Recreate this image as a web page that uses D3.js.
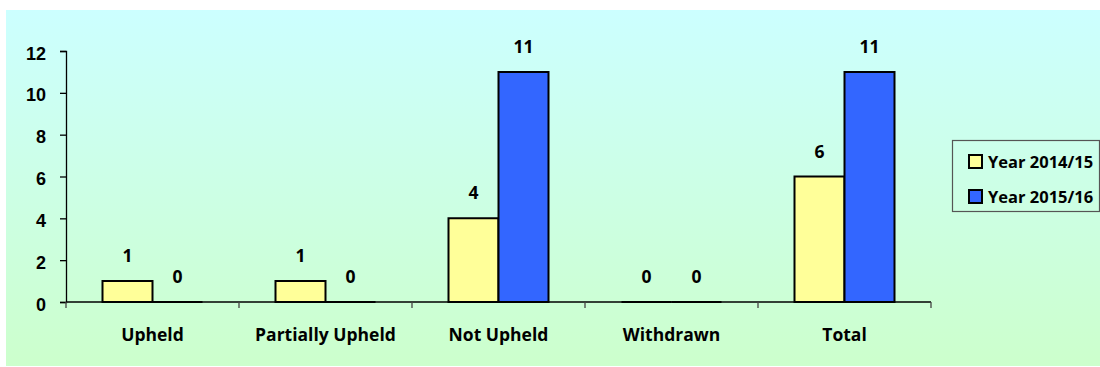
<!DOCTYPE html>
<html>
<head>
<meta charset="utf-8">
<script src="https://cdn.jsdelivr.net/npm/d3@7"></script>
<style>
  html, body { margin: 0; padding: 0; background: #fff; }
  svg { display: block; font-family: "Open Sans", "Noto Sans", sans-serif; font-weight: 700; }
</style>
</head>
<body>
<svg id="chart" width="1100" height="367"></svg>
<script>
const categories = ["Upheld", "Partially Upheld", "Not Upheld", "Withdrawn", "Total"];
const seriesNames = ["Year 2014/15", "Year 2015/16"];
const year2014 = [1, 1, 4, 0, 6];
const year2015 = [0, 0, 11, 0, 11];
const yTicks = [0, 2, 4, 6, 8, 10, 12];
const seriesColors = ["#FFFF99", "#3366FF"];

const svg = d3.select("#chart");

// background
const defs = svg.append("defs");
const grad = defs.append("linearGradient")
  .attr("id", "bg")
  .attr("x1", 0).attr("y1", 0)
  .attr("x2", 0).attr("y2", 1);
grad.append("stop").attr("offset", "0%").attr("stop-color", "#CCFFFF");
grad.append("stop").attr("offset", "100%").attr("stop-color", "#CCFFCC");

svg.append("rect")
  .attr("x", 6).attr("y", 10)
  .attr("width", 1094).attr("height", 356)
  .attr("fill", "url(#bg)");

// scales
const x0 = d3.scaleBand()
  .domain(categories)
  .range([66, 931])
  .paddingInner(0)
  .paddingOuter(0);

const x1 = d3.scaleBand()
  .domain(seriesNames)
  .range([0, x0.bandwidth()])
  .paddingInner(0)
  .paddingOuter(0.73);

const y = d3.scaleLinear()
  .domain([0, 12])
  .range([302, 51]);

const data = categories.map((c, i) => ({
  cat: c,
  values: [
    { name: seriesNames[0], value: year2014[i], color: seriesColors[0] },
    { name: seriesNames[1], value: year2015[i], color: seriesColors[1] }
  ]
}));

// bars (paths so zero values still show as a line)
const group = svg.selectAll("g.cat")
  .data(data)
  .enter().append("g")
  .attr("class", "cat")
  .attr("transform", (d) => `translate(${x0(d.cat)},0)`);

group.selectAll("path.bar")
  .data((d) => d.values)
  .enter().append("path")
  .attr("class", "bar")
  .attr("d", (d) => {
    const bx = x1(d.name), bw = x1.bandwidth();
    const top = y(d.value), h = y(0) - y(d.value);
    return `M${bx},${y(0)}V${top}H${bx + bw}V${top + h}Z`;
  })
  .attr("fill", (d) => d.color)
  .attr("stroke", "#000")
  .attr("stroke-width", 2);

group.selectAll("text.value")
  .data((d) => d.values)
  .enter().append("text")
  .attr("class", "value")
  .attr("x", (d) => x1(d.name) + x1.bandwidth() / 2)
  .attr("y", (d) => y(d.value) - 19)
  .attr("text-anchor", "middle")
  .attr("font-size", 17.5)
  .attr("fill", "#000")
  .text((d) => d.value);

// y axis
const yAxis = d3.axisLeft(y)
  .tickValues(yTicks)
  .tickSize(6)
  .tickPadding(14)
  .tickFormat(d3.format("d"));

const gy = svg.append("g")
  .attr("transform", "translate(66,0)")
  .call(yAxis);
gy.select(".domain").attr("stroke", "#000").attr("stroke-width", 1.3);
gy.selectAll(".tick line").attr("stroke", "#000").attr("stroke-width", 1.3);
gy.selectAll(".tick text")
  .attr("font-size", 18)
  .attr("font-family", null)
  .attr("fill", "#000")
  .attr("dy", "0.45em");

// x axis
const boundaries = categories.map((c) => x0(c)).concat([x0.range()[1]]);
const gx = svg.append("g");
gx.append("line")
  .attr("x1", x0.range()[0]).attr("x2", x0.range()[1])
  .attr("y1", y(0)).attr("y2", y(0))
  .attr("stroke", "#000").attr("stroke-width", 1.3);
gx.selectAll("line.tick")
  .data(boundaries)
  .enter().append("line")
  .attr("class", "tick")
  .attr("x1", (d) => d).attr("x2", (d) => d)
  .attr("y1", y(0)).attr("y2", y(0) + 6)
  .attr("stroke", "#444").attr("stroke-width", 1.3);
gx.selectAll("text.cat")
  .data(categories)
  .enter().append("text")
  .attr("class", "cat")
  .attr("x", (d) => x0(d) + x0.bandwidth() / 2)
  .attr("y", 341)
  .attr("text-anchor", "middle")
  .attr("font-size", 17.5)
  .attr("fill", "#000")
  .text((d) => d);

// legend
const legend = svg.append("g");
legend.append("rect")
  .attr("x", 952.5).attr("y", 140.5)
  .attr("width", 147).attr("height", 71)
  .attr("fill", "none")
  .attr("stroke", "#555")
  .attr("stroke-width", 1.2);

const item = legend.selectAll("g.item")
  .data(seriesNames)
  .enter().append("g")
  .attr("class", "item")
  .attr("transform", (d, i) => `translate(969,${155 + i * 35})`);
item.append("rect")
  .attr("width", 13).attr("height", 13)
  .attr("fill", (d, i) => seriesColors[i])
  .attr("stroke", "#000")
  .attr("stroke-width", 2);
item.append("text")
  .attr("x", 19)
  .attr("y", 13)
  .attr("font-size", 16.5)
  .attr("fill", "#000")
  .text((d) => d);
</script>
</body>
</html>
